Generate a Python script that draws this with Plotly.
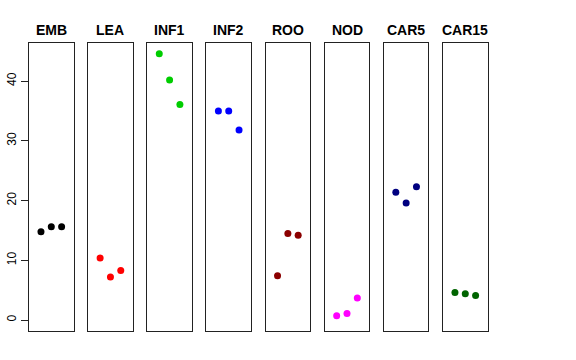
import plotly.graph_objects as go

panels = ["EMB", "LEA", "INF1", "INF2", "ROO", "NOD", "CAR5", "CAR15"]
colors = ["#000000", "#FF0000", "#00CD00", "#0000FF", "#8B0000", "#FF00FF", "#000080", "#006400"]
reps = [1, 2, 3]
emb = [14.8, 15.6, 15.6]
lea = [10.4, 7.2, 8.3]
inf1 = [44.6, 40.2, 36.1]
inf2 = [35.0, 35.0, 31.8]
roo = [7.4, 14.5, 14.2]
nod = [0.7, 1.1, 3.7]
car5 = [21.4, 19.6, 22.3]
car15 = [4.6, 4.4, 4.1]
values = [emb, lea, inf1, inf2, roo, nod, car5, car15]
yticks = [0, 10, 20, 30, 40]

W, H = 576, 360
ymax = max(max(v) for v in values)
ypad = 0.04 * ymax
yrange = [0 - ypad, ymax + ypad]
xrange = [-0.16, 4.16]

fig = go.Figure()
left0, step, pw = 29.0, 59.14, 44.6
top, bottom = 43.0, 330.7
layout = {}
for i, (name, col, vals) in enumerate(zip(panels, colors, values)):
    xa = "x" if i == 0 else f"x{i+1}"
    ya = "y" if i == 0 else f"y{i+1}"
    fig.add_trace(go.Scatter(x=reps, y=vals, mode="markers", xaxis=xa, yaxis=ya,
                             marker=dict(color=col, size=7, line=dict(width=0)),
                             showlegend=False, hoverinfo="skip"))
    l = left0 + i * step
    dom_x = [l / W, (l + pw) / W]
    key = "" if i == 0 else str(i + 1)
    layout[f"xaxis{key}"] = dict(domain=dom_x, range=xrange, showgrid=False, zeroline=False,
                                 showticklabels=False, ticks="", showline=True, mirror=True,
                                 linecolor="#222", linewidth=1, anchor=ya, fixedrange=True,
                                 automargin=False)
    ydict = dict(domain=[1 - bottom / H, 1 - top / H], range=yrange, showgrid=False,
                 zeroline=False, showline=True, mirror=True, linecolor="#222",
                 linewidth=1, anchor=xa, fixedrange=True, automargin=False)
    if i == 0:
        ydict.update(tickvals=yticks, ticktext=[str(t) for t in yticks], ticks="outside",
                     ticklen=7, tickcolor="#222", tickangle=-90, ticklabelstandoff=0,
                     tickfont=dict(family="Liberation Sans, Arial", size=12, color="#000"))
    else:
        ydict.update(showticklabels=False, ticks="")
    layout[f"yaxis{key}"] = ydict
    fig.add_annotation(text=f"<b>{name}</b>", x=(l + pw / 2) / W, y=1 - 29.5 / H,
                       xref="paper", yref="paper", showarrow=False, xanchor="center",
                       yanchor="middle",
                       font=dict(family="Liberation Sans, Arial", size=14, color="#000"))

fig.update_layout(**layout)
fig.update_layout(width=W, height=H, margin=dict(l=0, r=0, t=0, b=0),
                  plot_bgcolor="white", paper_bgcolor="white")
fig.write_html("out.html", post_script="document.body.style.margin='0';",
               config={"displayModeBar": False, "staticPlot": True})
